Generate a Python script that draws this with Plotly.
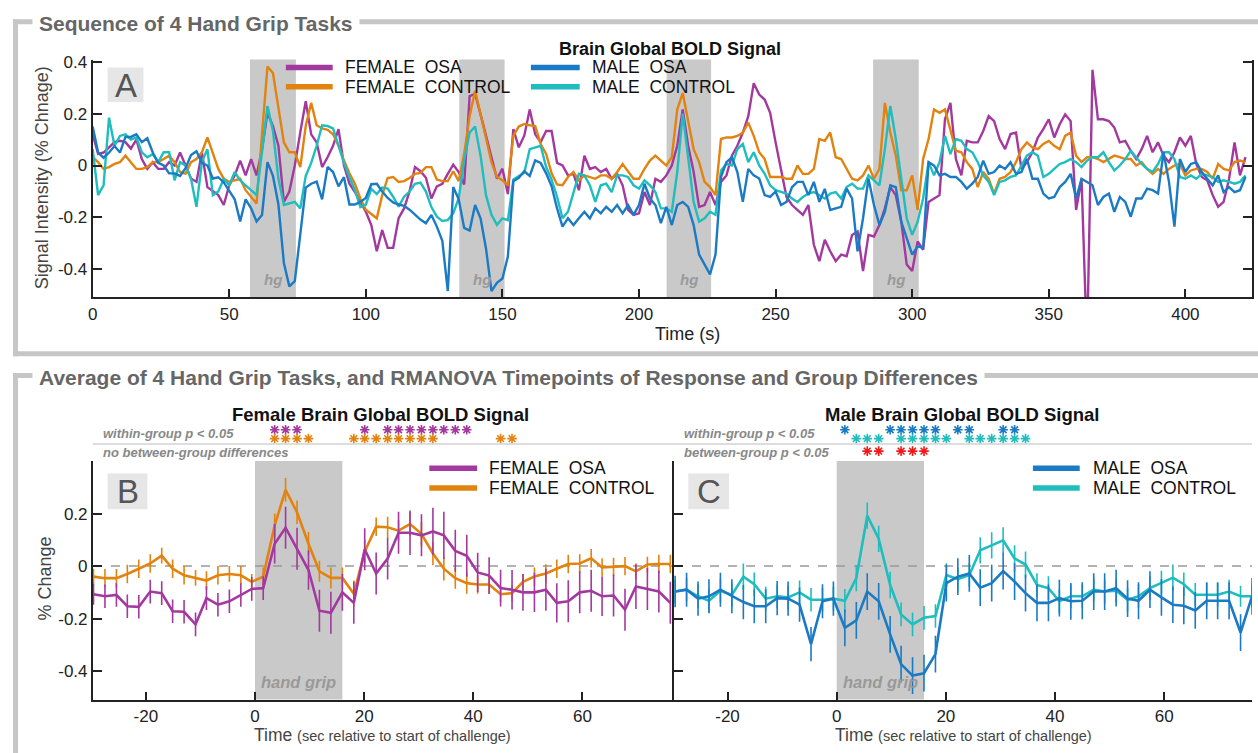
import plotly.graph_objects as go

W, H = 1258, 753
FONT = "Liberation Sans, Arial, sans-serif"

PURPLE = "#A3399F"
ORANGE = "#E3830F"
BLUE = "#1B7AC4"
CYAN = "#1FBDBD"
BAR = "#C9C9C9"
FRAME = "#C6C6C6"

# ---------------- panel A : whole run (one sample every 2 s) ----------------
time_a = [
    0, 2, 4, 6, 8, 10, 12, 14, 16, 18, 20, 22, 24, 26, 28, 30, 32, 34, 36, 38,
    40, 42, 44, 46, 48, 50, 52, 54, 56, 58, 60, 62, 64, 66, 68, 70, 72, 74, 76, 78,
    80, 82, 84, 86, 88, 90, 92, 94, 96, 98, 100, 102, 104, 106, 108, 110, 112, 114, 116, 118,
    120, 122, 124, 126, 128, 130, 132, 134, 136, 138, 140, 142, 144, 146, 148, 150, 152, 154, 156, 158,
    160, 162, 164, 166, 168, 170, 172, 174, 176, 178, 180, 182, 184, 186, 188, 190, 192, 194, 196, 198,
    200, 202, 204, 206, 208, 210, 212, 214, 216, 218, 220, 222, 224, 226, 228, 230, 232, 234, 236, 238,
    240, 242, 244, 246, 248, 250, 252, 254, 256, 258, 260, 262, 264, 266, 268, 270, 272, 274, 276, 278,
    280, 282, 284, 286, 288, 290, 292, 294, 296, 298, 300, 302, 304, 306, 308, 310, 312, 314, 316, 318,
    320, 322, 324, 326, 328, 330, 332, 334, 336, 338, 340, 342, 344, 346, 348, 350, 352, 354, 356, 358,
    360, 362, 364, 366, 368, 370, 372, 374, 376, 378, 380, 382, 384, 386, 388, 390, 392, 394, 396, 398,
    400, 402, 404, 406, 408, 410, 412, 414, 416, 418, 420, 422,
]

female_osa_a = [
    0.12, 0.045, 0.05, 0.07, 0.09, 0.095, 0.09, 0.065, 0.1, 0.025,
    -0.013, 0.013, -0.013, -0.013, 0.013, 0.0, 0.05, 0.0, -0.05, -0.063,
    0.05, -0.083, -0.1, -0.114, -0.152, -0.076, -0.038, 0.019, -0.038, 0.025,
    -0.038, 0.063, 0.203, 0.152, 0.076, -0.14, -0.1, 0.0, 0.127, 0.248,
    0.12, 0.089, -0.006, 0.032, 0.076, 0.14, 0.0, -0.07, -0.102, -0.14,
    -0.178, -0.229, -0.33, -0.248, -0.317, -0.317, -0.203, -0.165, -0.1, -0.006,
    -0.022, -0.047, -0.127, -0.08, -0.07, -0.032, 0.003, -0.025, -0.073, 0.267,
    0.276, 0.197, 0.115, 0.03, -0.051, -0.012, -0.11, 0.14, 0.07, 0.115,
    0.216, 0.12, 0.09, 0.133, 0.133, 0.01, 0.0, -0.038, -0.032, -0.095,
    0.038, -0.013, -0.006, -0.025, -0.013, -0.051, -0.032, -0.076, -0.171, -0.19,
    -0.184, -0.102, -0.152, -0.051, -0.063, -0.038, 0.0, 0.076, 0.216, 0.076,
    -0.025, -0.159, -0.152, -0.102, -0.152, -0.063, -0.038, 0.038, 0.076, 0.127,
    0.19, 0.317, 0.273, 0.254, 0.203, 0.089, -0.013, -0.121, -0.152, -0.171,
    -0.19, -0.152, -0.305, -0.368, -0.286, -0.33, -0.368, -0.343, -0.349, -0.267,
    -0.254, -0.406, -0.267, -0.273, -0.229, -0.165, -0.083, -0.114, -0.216, -0.381,
    -0.406, -0.292, -0.324, -0.14, -0.127, -0.114, 0.178, 0.241, 0.025, -0.038,
    0.095, 0.089, 0.089, 0.133, 0.19, 0.171, 0.102, 0.063, 0.121, 0.127,
    -0.013, 0.013, 0.051, 0.108, 0.14, 0.178, 0.108, 0.159, 0.197, 0.171,
    -0.171, -0.051, -0.7, 0.368, 0.178, 0.178, 0.171, 0.146, 0.089, 0.095,
    0.057, 0.025, 0.063, 0.114, 0.051, 0.089, 0.038, 0.013, 0.051, 0.108,
    0.076, 0.114, 0.006, -0.044, -0.057, -0.114, -0.159, -0.14, -0.051, 0.089,
    -0.038, 0.032,
]

female_control_a = [
    0.032, 0.013, -0.013, -0.006, 0.006, 0.013, 0.038, 0.013, -0.013, -0.013,
    -0.006, 0.013, 0.013, 0.025, 0.038, 0.013, -0.025, -0.032, 0.013, 0.025,
    0.051, 0.108, 0.051, -0.013, -0.051, -0.063, -0.057, -0.051, -0.095, -0.121,
    -0.146, 0.12, 0.381, 0.356, 0.216, 0.089, 0.051, 0.051, -0.006, 0.152,
    0.241, 0.155, 0.143, 0.137, 0.12, 0.076, 0.019, -0.03, -0.07, -0.127,
    -0.17, -0.187, -0.203, -0.114, -0.048, -0.044, -0.063, -0.06, -0.048, -0.032,
    -0.028, -0.006, -0.006, -0.054, -0.06, -0.06, -0.022, -0.06, 0.045, 0.19,
    0.288, 0.197, 0.108, 0.013, -0.044, -0.057, -0.076, 0.115, 0.15, 0.16,
    0.155, 0.152, 0.083, 0.045, -0.03, -0.073, -0.076, -0.044, -0.025, -0.057,
    -0.038, -0.044, -0.051, -0.038, -0.038, -0.051, -0.025, 0.006, -0.025, -0.051,
    -0.051, -0.013, 0.019, 0.038, 0.019, 0.0, 0.032, 0.216, 0.279, 0.178,
    0.063, 0.013, -0.063, -0.083, -0.114, 0.102, 0.108, 0.108, 0.114, 0.127,
    0.165, 0.114, 0.051, 0.025, -0.044, -0.044, -0.044, -0.051, -0.051, 0.0,
    -0.032, -0.032, -0.013, 0.102, 0.095, 0.127, 0.032, 0.025, -0.013, -0.051,
    -0.057, -0.038, 0.0, -0.051, -0.013, 0.241, 0.127, 0.038, -0.095, -0.095,
    -0.038, -0.171, 0.025, 0.102, 0.216, 0.203, 0.216, 0.14, 0.057, 0.051,
    0.013, -0.013, -0.083, -0.025, -0.051, -0.108, -0.051, -0.044, -0.025, 0.013,
    0.063, 0.089, 0.07, 0.063, 0.083, 0.095, 0.076, 0.063, 0.114, 0.127,
    0.038, 0.013, 0.032, 0.032, 0.025, 0.013, 0.025, 0.038, 0.032, 0.025,
    0.025, 0.0, 0.013, -0.013, -0.032, -0.013, -0.032, -0.013, 0.0, 0.006,
    -0.038, -0.019, -0.013, -0.013, -0.025, -0.051, 0.006, -0.013, -0.019, 0.013,
    0.019, 0.013,
]

male_osa_a = [
    0.15, 0.05, 0.03, 0.05, 0.075, 0.05, 0.11, 0.11, 0.12, 0.09,
    0.105, 0.05, 0.01, 0.0, -0.03, -0.03, -0.04, -0.01, 0.04, 0.055,
    0.01, 0.0, -0.05, -0.045, -0.065, -0.095, -0.13, -0.215, -0.13, -0.165,
    -0.215, -0.19, 0.013, -0.04, -0.15, -0.375, -0.465, -0.445, -0.255, -0.085,
    -0.07, -0.062, -0.13, -0.005, -0.025, -0.08, -0.045, -0.15, -0.15, -0.14,
    -0.125, -0.072, -0.07, -0.1, -0.125, -0.142, -0.15, -0.155, -0.17, -0.19,
    -0.208, -0.222, -0.19, -0.235, -0.29, -0.483, -0.083, -0.13, -0.24, -0.25,
    -0.152, -0.203, -0.32, -0.483, -0.451, -0.435, -0.35, -0.06, -0.047, -0.022,
    -0.04, 0.02, 0.01, -0.03, -0.08, -0.165, -0.235, -0.203, -0.229, -0.203,
    -0.178, -0.203, -0.165, -0.184, -0.159, -0.178, -0.152, -0.184, -0.152, -0.19,
    -0.152, -0.07, -0.127, -0.152, -0.222, -0.159, -0.229, -0.152, -0.14, -0.159,
    -0.229, -0.343, -0.381, -0.419, -0.343, -0.044, 0.013, 0.032, -0.025, -0.14,
    -0.013, -0.038, -0.05, -0.114, -0.121, -0.1, -0.152, -0.14, -0.083, -0.063,
    -0.063, -0.114, -0.063, -0.14, -0.09, -0.171, -0.165, -0.159, -0.089, -0.127,
    -0.33, -0.203, -0.05, -0.152, -0.229, -0.178, -0.076, -0.083, -0.216, -0.279,
    -0.343, -0.311, -0.317, 0.013, 0.0, -0.038, -0.032, -0.044, -0.044, -0.063,
    -0.089, -0.07, -0.044, 0.019, -0.032, -0.025, 0.0, -0.013, 0.013, -0.032,
    -0.025, 0.025, -0.051, -0.051, -0.108, -0.127, -0.121, -0.083, -0.063, -0.032,
    -0.127, -0.051, -0.063, -0.076, -0.152, -0.121, -0.108, -0.178, -0.121, -0.14,
    -0.197, -0.127, -0.127, -0.089, -0.095, -0.108, 0.051, -0.063, -0.235, 0.025,
    -0.025, 0.006, 0.013, -0.025, -0.051, -0.076, -0.038, -0.102, -0.083, -0.102,
    -0.095, -0.044,
]

male_control_a = [
    0.063, -0.114, -0.076, 0.184, 0.076, 0.114, 0.12, 0.1, 0.108, 0.051,
    0.032, 0.044, 0.013, 0.051, 0.051, -0.057, 0.013, 0.0, -0.051, -0.159,
    0.013, 0.063, -0.114, -0.1, -0.051, -0.076, -0.025, -0.057, -0.076, -0.095,
    -0.114, 0.051, 0.229, 0.133, -0.051, -0.152, -0.146, -0.14, -0.165, -0.04,
    0.01, 0.076, 0.155, 0.152, 0.143, 0.076, 0.01, -0.045, -0.095, -0.16,
    -0.15, -0.09, -0.11, -0.085, -0.089, -0.12, -0.158, -0.12, -0.1, -0.07,
    -0.066, -0.1, -0.16, -0.197, -0.213, -0.21, -0.184, -0.126, 0.02, 0.127,
    0.15, 0.038, -0.115, -0.19, -0.228, -0.203, -0.21, -0.054, -0.041, -0.028,
    0.063, 0.07, 0.076, -0.006, -0.054, -0.12, -0.203, -0.178, -0.102, -0.032,
    -0.038, -0.076, -0.14, -0.076, -0.07, -0.102, -0.038, -0.038, -0.044, -0.076,
    -0.089, -0.057, -0.076, -0.102, -0.165, -0.165, -0.178, -0.025, 0.2, 0.038,
    -0.14, -0.216, -0.203, -0.178, -0.19, -0.019, 0.006, 0.0, 0.063, 0.083,
    0.013, 0.051, 0.0, -0.032, -0.076, -0.095, -0.102, -0.108, -0.127, -0.14,
    -0.121, -0.108, -0.102, -0.114, -0.127, -0.108, -0.102, -0.127, -0.083, -0.07,
    -0.089, -0.089, -0.038, -0.057, -0.076, 0.063, 0.229, 0.102, -0.051, -0.203,
    -0.267, -0.216, -0.127, 0.013, -0.038, 0.013, 0.114, 0.044, 0.102, 0.095,
    0.063, 0.051, 0.013, -0.038, -0.063, -0.114, -0.063, -0.057, -0.044, -0.038,
    0.0, 0.038, 0.051, 0.038, -0.044, -0.032, -0.013, 0.006, 0.013, 0.025,
    0.013, -0.006, 0.019, 0.032, 0.032, 0.051, 0.013, -0.019, 0.0, 0.025,
    0.057, 0.032, 0.006, -0.013, -0.025, 0.006, 0.051, 0.051, 0.025, -0.044,
    -0.051, -0.038, -0.051, -0.032, -0.038, -0.044, -0.063, -0.057, -0.063, -0.07,
    -0.063, -0.038,
]

# hand grip blocks in panel A (start, end in s)
hg_blocks = [(57.6, 74.4), (134.2, 150.8), (210.1, 226.4), (285.7, 302.4)]

# ---------------- panels B and C : average of the 4 tasks ----------------
time_bc = [
    -29.6, -27.5, -25.4, -23.4, -21.3, -19.2, -17.1, -15.1, -13.0, -10.9,
    -8.9, -6.8, -4.7, -2.6, -0.6, 1.5, 3.6, 5.6, 7.7, 9.8,
    11.8, 13.9, 16.0, 18.1, 20.1, 22.2, 24.3, 26.3, 28.4, 30.5,
    32.6, 34.6, 36.7, 38.8, 40.8, 42.9, 45.0, 47.1, 49.1, 51.2,
    53.3, 55.3, 57.4, 59.5, 61.6, 63.6, 65.7, 67.8, 69.8, 71.9,
    74.0, 76.1,
]

female_osa_avg = [
    -0.107, -0.115, -0.11, -0.153, -0.155, -0.097, -0.103, -0.172, -0.174, -0.222,
    -0.122, -0.147, -0.134, -0.11, -0.087, -0.084, 0.085, 0.146, 0.066, -0.015,
    -0.17, -0.178, -0.1, -0.14, 0.064, -0.028, 0.029, 0.127, 0.127, 0.117,
    0.132, 0.117, 0.058, 0.039, -0.024, -0.036, -0.084, -0.09, -0.1, -0.1,
    -0.09, -0.14, -0.134, -0.1, -0.094, -0.115, -0.112, -0.166, -0.078, -0.087,
    -0.097, -0.14,
]
female_osa_sem = [
    0.04, 0.045, 0.045, 0.045, 0.045, 0.045, 0.045, 0.045, 0.045, 0.045,
    0.045, 0.045, 0.045, 0.045, 0.045, 0.045, 0.075, 0.08, 0.08, 0.075,
    0.08, 0.08, 0.07, 0.08, 0.08, 0.08, 0.08, 0.08, 0.085, 0.08,
    0.09, 0.09, 0.08, 0.08, 0.075, 0.07, 0.07, 0.075, 0.07, 0.075,
    0.08, 0.075, 0.08, 0.08, 0.08, 0.075, 0.08, 0.08, 0.085, 0.08,
    0.08, 0.08,
]

female_control_avg = [
    -0.04, -0.046, -0.046, -0.03, -0.01, 0.01, 0.04, -0.01, -0.035, -0.045,
    -0.055, -0.035, -0.03, -0.035, -0.06, -0.04, 0.155, 0.29, 0.205, 0.085,
    -0.02, -0.045, -0.045, -0.105, 0.055, 0.15, 0.148, 0.135, 0.16, 0.123,
    0.048, -0.01, -0.046, -0.065, -0.07, -0.07, -0.107, -0.103, -0.06, -0.04,
    -0.028, -0.01, 0.008, 0.01, 0.03, -0.005, -0.003, 0.0, -0.02, 0.006,
    0.008, 0.008,
]
female_control_sem = [
    0.03, 0.035, 0.035, 0.035, 0.035, 0.035, 0.03, 0.035, 0.035, 0.03,
    0.035, 0.035, 0.03, 0.035, 0.03, 0.035, 0.045, 0.045, 0.045, 0.045,
    0.04, 0.04, 0.04, 0.05, 0.045, 0.035, 0.04, 0.04, 0.045, 0.045,
    0.045, 0.045, 0.04, 0.04, 0.035, 0.035, 0.03, 0.03, 0.03, 0.035,
    0.035, 0.035, 0.035, 0.035, 0.035, 0.035, 0.035, 0.035, 0.03, 0.03,
    0.035, 0.035,
]

male_osa_avg = [
    -0.097, -0.09, -0.124, -0.115, -0.09, -0.115, -0.137, -0.153, -0.153, -0.122,
    -0.124, -0.147, -0.297, -0.134, -0.124, -0.235, -0.207, -0.097, -0.134, -0.26,
    -0.373, -0.417, -0.408, -0.335, -0.065, -0.04, -0.028, -0.082, -0.065, -0.019,
    -0.059, -0.103, -0.14, -0.14, -0.122, -0.134, -0.132, -0.097, -0.097, -0.084,
    -0.124, -0.132, -0.09, -0.119, -0.147, -0.151, -0.169, -0.132, -0.132, -0.132,
    -0.253, -0.115,
]
male_osa_sem = [
    0.06, 0.065, 0.065, 0.065, 0.065, 0.065, 0.065, 0.065, 0.065, 0.065,
    0.065, 0.065, 0.065, 0.065, 0.065, 0.07, 0.07, 0.07, 0.07, 0.07,
    0.07, 0.07, 0.07, 0.07, 0.07, 0.07, 0.07, 0.07, 0.07, 0.07,
    0.07, 0.07, 0.07, 0.07, 0.07, 0.07, 0.07, 0.07, 0.07, 0.07,
    0.07, 0.07, 0.07, 0.07, 0.07, 0.07, 0.07, 0.07, 0.07, 0.07,
    0.07, 0.07,
]

male_control_avg = [
    -0.097, -0.09, -0.115, -0.132, -0.094, -0.11, -0.04, -0.069, -0.124, -0.115,
    -0.119, -0.1, -0.128, -0.128, -0.124, -0.132, -0.046, 0.192, 0.104, -0.072,
    -0.184, -0.222, -0.197, -0.19, -0.034, -0.05, -0.034, 0.06, 0.079, 0.098,
    0.029, 0.006, -0.072, -0.084, -0.134, -0.115, -0.115, -0.09, -0.097, -0.094,
    -0.128, -0.115, -0.084, -0.063, -0.044, -0.069, -0.109, -0.109, -0.109, -0.097,
    -0.115, -0.115,
]
male_control_sem = [
    0.045, 0.045, 0.045, 0.045, 0.045, 0.045, 0.05, 0.045, 0.045, 0.045,
    0.045, 0.045, 0.045, 0.045, 0.045, 0.045, 0.05, 0.05, 0.05, 0.05,
    0.045, 0.045, 0.045, 0.045, 0.045, 0.045, 0.045, 0.05, 0.05, 0.05,
    0.05, 0.05, 0.045, 0.045, 0.045, 0.045, 0.045, 0.045, 0.045, 0.045,
    0.045, 0.045, 0.045, 0.045, 0.05, 0.045, 0.045, 0.045, 0.045, 0.045,
    0.04, 0.045,
]

# RMANOVA significant timepoints (s)
female_osa_sig = [3.6, 5.6, 7.7, 20.1, 24.3, 26.3, 28.4, 30.5, 32.6, 34.6, 36.7, 38.8]
female_control_sig = [3.6, 5.6, 7.7, 9.8, 18.1, 20.1, 22.2, 24.3, 26.3, 28.4, 30.5, 32.6, 45.0, 47.1]
male_osa_sig = [1.5, 9.8, 11.8, 13.9, 16.0, 18.1, 22.2, 24.3, 30.5, 32.6]
male_control_sig = [3.6, 5.6, 7.7, 11.8, 13.9, 16.0, 18.1, 20.1, 24.3, 26.3, 28.4, 30.5, 32.6, 34.6]
male_between_sig = [5.6, 7.7, 11.8, 13.9, 16.0]

grip_task = (0, 16)

ticks_a_x = [0, 50, 100, 150, 200, 250, 300, 350, 400]
ticks_bc_x = [-20, 0, 20, 40, 60]

for arr in (female_osa_a, female_control_a, male_osa_a, male_control_a):
    assert len(arr) == len(time_a), len(arr)
for arr in (female_osa_avg, female_osa_sem, female_control_avg, female_control_sem,
            male_osa_avg, male_osa_sem, male_control_avg, male_control_sem):
    assert len(arr) == len(time_bc), len(arr)


def px(x):
    return x / W


def py(y):
    return 1 - y / H


fig = go.Figure()

# panel A lines
for name, vals, col in [
    ("FEMALE OSA", female_osa_a, PURPLE),
    ("FEMALE CONTROL", female_control_a, ORANGE),
    ("MALE CONTROL", male_control_a, CYAN),
    ("MALE OSA", male_osa_a, BLUE),
]:
    fig.add_trace(go.Scatter(x=time_a, y=vals, name=name, mode="lines",
                             line=dict(color=col, width=2.4), xaxis="x", yaxis="y"))

# panel B and C averaged responses with error bars
for vals, err, col, ax, ay in [
    (female_control_avg, female_control_sem, ORANGE, "x2", "y2"),
    (female_osa_avg, female_osa_sem, PURPLE, "x2", "y2"),
    (male_control_avg, male_control_sem, CYAN, "x3", "y3"),
    (male_osa_avg, male_osa_sem, BLUE, "x3", "y3"),
]:
    fig.add_trace(go.Scatter(
        x=time_bc, y=vals, mode="lines", line=dict(color=col, width=2.6),
        error_y=dict(type="data", array=err, color=col, thickness=1.6, width=0),
        xaxis=ax, yaxis=ay))

# significance asterisks (row 0 = OSA, row 1 = control, row 2.4 = between-group)
for sig, row, col, ax, ay in [
    (female_osa_sig, 0, PURPLE, "x2", "y4"),
    (female_control_sig, 1, ORANGE, "x2", "y4"),
    (male_osa_sig, 0, BLUE, "x3", "y5"),
    (male_control_sig, 1, CYAN, "x3", "y5"),
    (male_between_sig, 2.4, "#F01818", "x3", "y5"),
]:
    fig.add_trace(go.Scatter(
        x=sig, y=[row] * len(sig), mode="markers",
        marker=dict(symbol="asterisk-open", size=8, color=col, line=dict(color=col, width=1.6)),
        xaxis=ax, yaxis=ay, cliponaxis=False))

axis_common = dict(showgrid=False, zeroline=False, showline=True, linecolor="#222",
                   linewidth=2, ticks="inside", tickcolor="#222", tickwidth=2,
                   tickfont=dict(family=FONT, size=17, color="#222"))

star_axis = dict(domain=[py(457.7), py(417.7)], range=[3.444, -1], visible=False,
                 fixedrange=True)

fig.update_layout(
    width=W, height=H, margin=dict(l=0, r=0, t=0, b=0),
    paper_bgcolor="white", plot_bgcolor="white", showlegend=False,
    font=dict(family=FONT, color="#222"),
    xaxis=dict(axis_common, domain=[px(88), px(1252)], range=[0, 424.4], anchor="y",
               tickvals=ticks_a_x, ticktext=[str(v) for v in ticks_a_x], ticklen=8),
    yaxis=dict(axis_common, domain=[py(293), py(53)], range=[-0.507, 0.408], anchor="x",
               tickvals=[-0.4, -0.2, 0, 0.2, 0.4], ticktext=["-0.4", "-0.2", "0", "0.2", "0.4"],
               ticklen=9, mirror="ticks"),
    xaxis2=dict(axis_common, domain=[px(88.3), px(670.7)], range=[-29.7, 76.6], anchor="y2",
                tickvals=ticks_bc_x, ticktext=[str(v) for v in ticks_bc_x], ticklen=8),
    yaxis2=dict(axis_common, domain=[py(699), py(458.3)], range=[-0.508, 0.4], anchor="x2",
                tickvals=[-0.4, -0.2, 0, 0.2], ticktext=["-0.4", "-0.2", "0", "0.2"], ticklen=9),
    xaxis3=dict(axis_common, domain=[px(671.7), px(1252)], range=[-29.8, 76.1], anchor="y3",
                tickvals=ticks_bc_x, ticktext=[str(v) for v in ticks_bc_x], ticklen=8),
    yaxis3=dict(axis_common, domain=[py(699), py(458.3)], range=[-0.508, 0.4], anchor="x3",
                tickvals=[-0.4, -0.2, 0, 0.2], showticklabels=False, ticklen=9),
    yaxis4=dict(star_axis, anchor="x2"),
    yaxis5=dict(star_axis, anchor="x3"),
)

shapes = []


def pline(x0, y0, x1, y1, color, width, dash=None):
    shapes.append(dict(type="line", xref="paper", yref="paper",
                       x0=px(x0), y0=py(y0), x1=px(x1), y1=py(y1),
                       line=dict(color=color, width=width, dash=dash)))


# section frames
pline(8, 15, 1258, 15, FRAME, 5)
pline(10.5, 12.5, 10.5, 352.5, FRAME, 5)
pline(8, 350, 1258, 350, FRAME, 5)
pline(8, 372, 1258, 372, FRAME, 5)
pline(10.5, 369.5, 10.5, 753, FRAME, 5)

# hand grip shading
for a, b in hg_blocks:
    shapes.append(dict(type="rect", xref="x", yref="y domain", x0=a, x1=b, y0=0, y1=1,
                       fillcolor=BAR, line=dict(width=0), layer="below"))
for ax in ("x2", "x3"):
    ay = "y2" if ax == "x2" else "y3"
    shapes.append(dict(type="rect", xref=ax, yref=ay + " domain", x0=grip_task[0], x1=grip_task[1],
                       y0=0, y1=1, fillcolor=BAR, line=dict(width=0), layer="below"))
    shapes.append(dict(type="line", xref=ax + " domain", yref=ay, x0=0, x1=1, y0=0, y1=0,
                       line=dict(color="#999", width=1.5, dash="dash"), layer="below"))

# separator under the "within-group" rows
pline(88, 441, 1252, 441, "#D2D2D2", 1.5)

# panel letter boxes
for x0, y0, x1, y1 in [(103, 61, 139, 96), (103, 471, 143, 507), (686, 471, 727, 507)]:
    shapes.append(dict(type="rect", xref="paper", yref="paper", x0=px(x0), y0=py(y1),
                       x1=px(x1), y1=py(y0), fillcolor="#E6E6E6", line=dict(width=0)))

# legend rows (y in px)
TOP_ROWS = (61.0, 80.5)
BC_ROWS = (465.5, 485.5)

# legend line samples
for x0, x1, y, col in [
    (282, 329, TOP_ROWS[0], PURPLE), (282, 329, TOP_ROWS[1], ORANGE),
    (528, 577, TOP_ROWS[0], BLUE), (528, 577, TOP_ROWS[1], CYAN),
    (426, 474, BC_ROWS[0], PURPLE), (426, 474, BC_ROWS[1], ORANGE),
    (1032, 1079, BC_ROWS[0], BLUE), (1032, 1079, BC_ROWS[1], CYAN),
]:
    pline(x0, y, x1, y, col, 5.5)

fig.update_layout(shapes=shapes)

annotations = []


def ptext(x, y, text, size, color="#222", xanchor="left", bold=False, italic=False,
          angle=0, bg=None, pad=0):
    if bold:
        text = "<b>" + text + "</b>"
    if italic:
        text = "<i>" + text + "</i>"
    annotations.append(dict(xref="paper", yref="paper", x=px(x), y=py(y), text=text,
                            showarrow=False, xanchor=xanchor, yanchor="middle",
                            textangle=angle, bgcolor=bg, borderpad=pad,
                            font=dict(family=FONT, size=size, color=color)))


NB = "\u00a0"
LEG = 17.5

ptext(27, 17, "Sequence of 4 Hand Grip Tasks", 21, "#666", bold=True, bg="white", pad=6)
ptext(27, 374, "Average of 4 Hand Grip Tasks, and RMANOVA Timepoints of Response and Group Differences",
      21, "#666", bold=True, bg="white", pad=6)

ptext(121, 79, "A", 33, "#555", xanchor="center")
ptext(123, 489, "B", 33, "#555", xanchor="center")
ptext(706.5, 489, "C", 33, "#555", xanchor="center")

ptext(555, 42, "Brain Global BOLD Signal", 18, "#111", bold=True)
ptext(340, TOP_ROWS[0], "FEMALE" + NB + NB + "OSA", LEG, "#111")
ptext(340, TOP_ROWS[1], "FEMALE" + NB + NB + "CONTROL", LEG, "#111")
ptext(588, TOP_ROWS[0], "MALE" + NB + NB + "OSA", LEG, "#111")
ptext(588, TOP_ROWS[1], "MALE" + NB + NB + "CONTROL", LEG, "#111")

ptext(485, BC_ROWS[0], "FEMALE" + NB + NB + "OSA", LEG, "#111")
ptext(485, BC_ROWS[1], "FEMALE" + NB + NB + "CONTROL", LEG, "#111")
ptext(1091, BC_ROWS[0], "MALE" + NB + NB + "OSA", LEG, "#111")
ptext(1091, BC_ROWS[1], "MALE" + NB + NB + "CONTROL", LEG, "#111")

ptext(377, 411, "Female Brain Global BOLD Signal", 18.5, "#111", xanchor="center", bold=True)
ptext(961, 411, "Male Brain Global BOLD Signal", 18.5, "#111", xanchor="center", bold=True)

ptext(97, 430, "within-group p < 0.05", 13, "#888", bold=True, italic=True)
ptext(97, 449.5, "no between-group differences", 13, "#888", bold=True, italic=True)
ptext(681, 430, "within-group p < 0.05", 13, "#888", bold=True, italic=True)
ptext(681, 449.5, "between-group p < 0.05", 13, "#888", bold=True, italic=True)

ptext(38, 172, "Signal Intensity (% Chnage)", 18, "#444", xanchor="center", angle=-90)
ptext(40, 577, "% Change", 18, "#444", xanchor="center", angle=-90)
ptext(685, 330, "Time (s)", 18, "#222", xanchor="center")
small = "<span style='font-size:14.5px'>(sec relative to start of challenge)</span>"
ptext(379, 735, "Time " + small, 17.5, "#444", xanchor="center")
ptext(962, 735, "Time " + small, 17.5, "#444", xanchor="center")

for a, b in hg_blocks:
    annotations.append(dict(xref="x", yref="y", x=(a + b) / 2, y=-0.438, text="<b><i>hg</i></b>",
                            showarrow=False, font=dict(family=FONT, size=15, color="#999")))
for ax, ay in (("x2", "y2"), ("x3", "y3")):
    annotations.append(dict(xref=ax, yref=ay, x=(grip_task[0] + grip_task[1]) / 2, y=-0.44,
                            text="<b><i>hand grip</i></b>", showarrow=False,
                            font=dict(family=FONT, size=16.5, color="#999")))

fig.update_layout(annotations=annotations)

# drop the default page margin so the 1258x753 figure fills the window exactly
fig.write_html("out.html", config={"displayModeBar": False},
               post_script="document.body.style.margin='0';document.body.style.overflow='hidden';")
